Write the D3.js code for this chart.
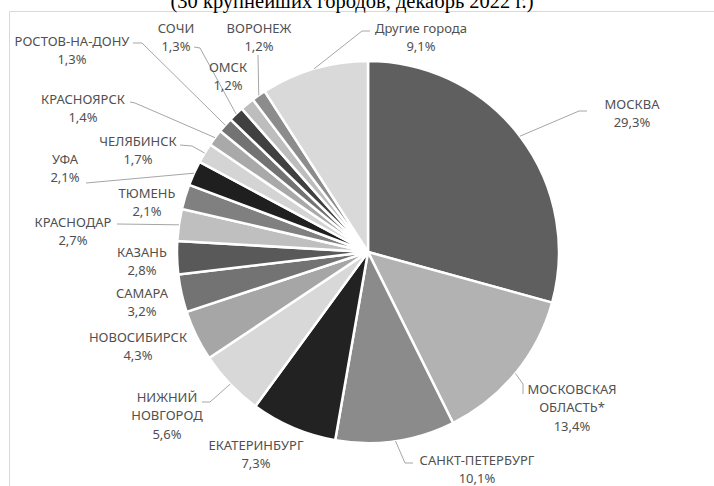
<!DOCTYPE html>
<html><head><meta charset="utf-8">
<script src="https://cdn.jsdelivr.net/npm/d3@7/dist/d3.min.js"></script>
<style>body{margin:0;background:#fff}svg{display:block}</style>
</head><body>
<svg id="chart" width="714" height="486"></svg>
<script>
const title = "(30 крупнейших городов, декабрь 2022 г.)";
const cities = [["МОСКВА"],["МОСКОВСКАЯ","ОБЛАСТЬ*"],["САНКТ-ПЕТЕРБУРГ"],["ЕКАТЕРИНБУРГ"],["НИЖНИЙ","НОВГОРОД"],["НОВОСИБИРСК"],["САМАРА"],["КАЗАНЬ"],["КРАСНОДАР"],["ТЮМЕНЬ"],["УФА"],["ЧЕЛЯБИНСК"],["КРАСНОЯРСК"],["РОСТОВ-НА-ДОНУ"],["СОЧИ"],["ОМСК"],["ВОРОНЕЖ"],["Другие города"]];
const shares = [29.3,13.4,10.1,7.3,5.6,4.3,3.2,2.8,2.7,2.1,2.1,1.7,1.4,1.3,1.3,1.2,1.2,9.1];
const sliceColors = ["#5f5f5f","#b2b2b2","#8b8b8b","#222222","#d8d8d8","#a6a6a6","#737373","#595959","#bfbfbf","#808080","#1f1f1f","#d4d4d4","#a9a9a9","#737373","#404040","#bdbdbd","#8c8c8c","#d9d9d9"];
// label layout: [centre x, first line y], leader knee points (label side)
const labelLayout = [
  [632,104],[572,389],[477,460],[256,445],[167,397],[138,337],[142,293],[142,252],[73,222],[147,193],[65,159],[138,141],[83,99],[72,41],[176,28],[228,67],[259,28],[421,28]
];
const leaders = [
  [[587,111],[579,111]],
  [[523,394],[523,384]],
  [[413,463],[405,463]],
  null,
  [[202,402],[210,402]],
  null,null,null,
  [[117,224]],
  null,
  [[86,183]],
  [[180,145],[192,146]],
  [[130,102],[135,103]],
  [[133,43],[142,43]],
  [[194,47],[200,48]],
  null,
  [[258,55]],
  [[370,31],[362,31]]
];

const svg = d3.select("#chart");
const cx = 368, cy = 252, R = 191;
const lineH = 18.7;
const fmt = v => d3.format(".1f")(v).replace(".", ",") + "%";

// frame
svg.append("line").attr("x1",9.5).attr("y1",11.5).attr("x2",714).attr("y2",11.5).attr("stroke","#d9d9d9");
svg.append("line").attr("x1",9.5).attr("y1",11.5).attr("x2",9.5).attr("y2",486).attr("stroke","#d9d9d9");

// title (cut at top, as in the source)
svg.append("text").attr("x",352).attr("y",8).attr("text-anchor","middle")
  .attr("font-family","'Liberation Serif','Times New Roman',serif").attr("font-size",20.5).attr("fill","#000")
  .text(title);

const pie = d3.pie().sort(null).value(d => d)(shares);
const arc = d3.arc().innerRadius(0).outerRadius(R);
const g = svg.append("g").attr("transform",`translate(${cx},${cy})`);
g.selectAll("path").data(pie).join("path")
  .attr("d", arc).attr("fill",(d,i)=>sliceColors[i])
  .attr("stroke","#fff").attr("stroke-width",2.5).attr("stroke-linejoin","round");

// leaders
const edge = d3.arc().innerRadius(R).outerRadius(R);
pie.forEach((d,i) => {
  if (!leaders[i]) return;
  const c = edge.centroid(d);
  const pts = leaders[i].concat([[c[0]+cx, c[1]+cy]]);
  svg.append("path").attr("d", d3.line()(pts)).attr("fill","none")
    .attr("stroke","#a6a6a6").attr("stroke-width",1);
});

// labels
cities.forEach((lines,i) => {
  const [lx,ly] = labelLayout[i];
  const all = lines.concat([fmt(shares[i])]);
  const t = svg.append("text").attr("text-anchor","middle")
    .attr("font-family","'Noto Sans',sans-serif").attr("font-size",13).attr("fill","#505050");
  all.forEach((s,k) => t.append("tspan").attr("x",lx).attr("y",ly + k*lineH).attr("dy","0.35em").text(s));
});
</script>
</body></html>
